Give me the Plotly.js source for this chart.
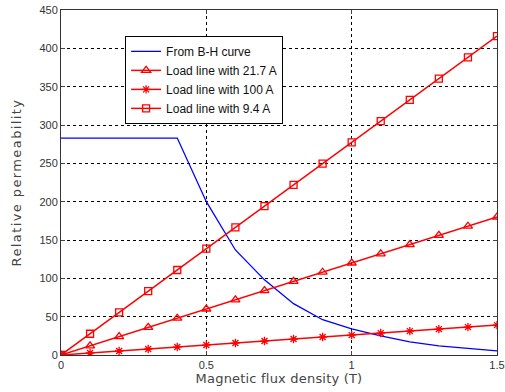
<!DOCTYPE html>
<html><head><meta charset="utf-8">
<script src="https://cdn.plot.ly/plotly-3.0.1.min.js"></script>
<style>html,body{margin:0;padding:0;background:#fff}#c{width:505px;height:392px}
.ytitle{letter-spacing:1.4px}
.xtitle{letter-spacing:0.2px}</style>
</head><body><div id="c"></div>
<script>
const B = [0,0.1,0.2,0.3,0.4,0.5,0.6,0.7,0.8,0.9,1.0,1.1,1.2,1.3,1.4,1.5];
const muBH = [283,283,283,283,283,200,137,98,67,46,34,25,17,12,8.5,5.5];
const load217 = [0,12,24,36,48,60,72,84,96,108,120,132,144,156,168,180];
const load100 = [0,2.6,5.2,7.8,10.4,13,15.6,18.2,20.8,23.4,26,28.6,31.2,33.8,36.4,39];
const load94 = [0,27.7,55.5,83.2,110.9,138.7,166.4,194.1,221.9,249.6,277.3,305.1,332.8,360.5,388.3,416];
const names = ['From B-H curve','Load line with 21.7 A','Load line with 100 A','Load line with 9.4 A'];
const xTicks = [0,0.5,1,1.5];
const xTickText = ['0','0.5','1','1.5'];
const yTicks = [0,50,100,150,200,250,300,350,400,450];

const red = '#ff0000';
const traces = [
  {x:B, y:muBH, name:names[0], mode:'lines', line:{color:'#0000ff', width:1.3}},
  {x:B, y:load217, name:names[1], mode:'lines+markers', line:{color:red, width:1.5},
   marker:{symbol:'triangle-up-open', size:8, color:red, line:{width:1.3, color:red}}},
  {x:B, y:load100, name:names[2], mode:'lines+markers', line:{color:red, width:1.5},
   marker:{symbol:'asterisk-open', size:7, color:red, line:{width:1.3, color:red}}},
  {x:B, y:load94, name:names[3], mode:'lines+markers', line:{color:red, width:1.5},
   marker:{symbol:'square-open', size:7, color:red, line:{width:1.3, color:red}}}
];
const tickFont = {family:'Liberation Sans, Arial, sans-serif', size:11, color:'#333'};
const titleFont = {family:'DejaVu Sans, sans-serif', size:13, color:'#444'};
const layout = {
  width:505, height:392,
  margin:{l:61, r:8, t:10, b:37},
  paper_bgcolor:'#fff', plot_bgcolor:'#fff',
  font: tickFont,
  showlegend:true,
  legend:{x:0.147, y:0.925, xanchor:'left', yanchor:'top', bgcolor:'#fff',
    bordercolor:'#000', borderwidth:1, font:{family:'Liberation Sans, Arial, sans-serif', size:12, color:'#111'},
    itemwidth:30, tracegroupgap:0},
  xaxis:{range:[0,1.5], tickvals:xTicks, ticktext:xTickText, ticks:'inside', ticklen:4,
    showline:true, linecolor:'#333', linewidth:1, mirror:'allticks',
    showgrid:true, gridcolor:'#000', griddash:'dot', gridwidth:1, zeroline:false,
    tickfont:tickFont,
    title:{text:'Magnetic flux density (T)', font:titleFont, standoff:3}},
  yaxis:{range:[0,450], tickvals:yTicks, ticks:'inside', ticklen:4,
    showline:true, linecolor:'#333', linewidth:1, mirror:'allticks',
    showgrid:true, gridcolor:'#000', griddash:'dot', gridwidth:1, zeroline:false,
    tickfont:tickFont,
    title:{text:'Relative permeability', font:titleFont, standoff:14}}
};
Plotly.newPlot('c', traces, layout, {displayModeBar:false, staticPlot:true});
</script></body></html>
